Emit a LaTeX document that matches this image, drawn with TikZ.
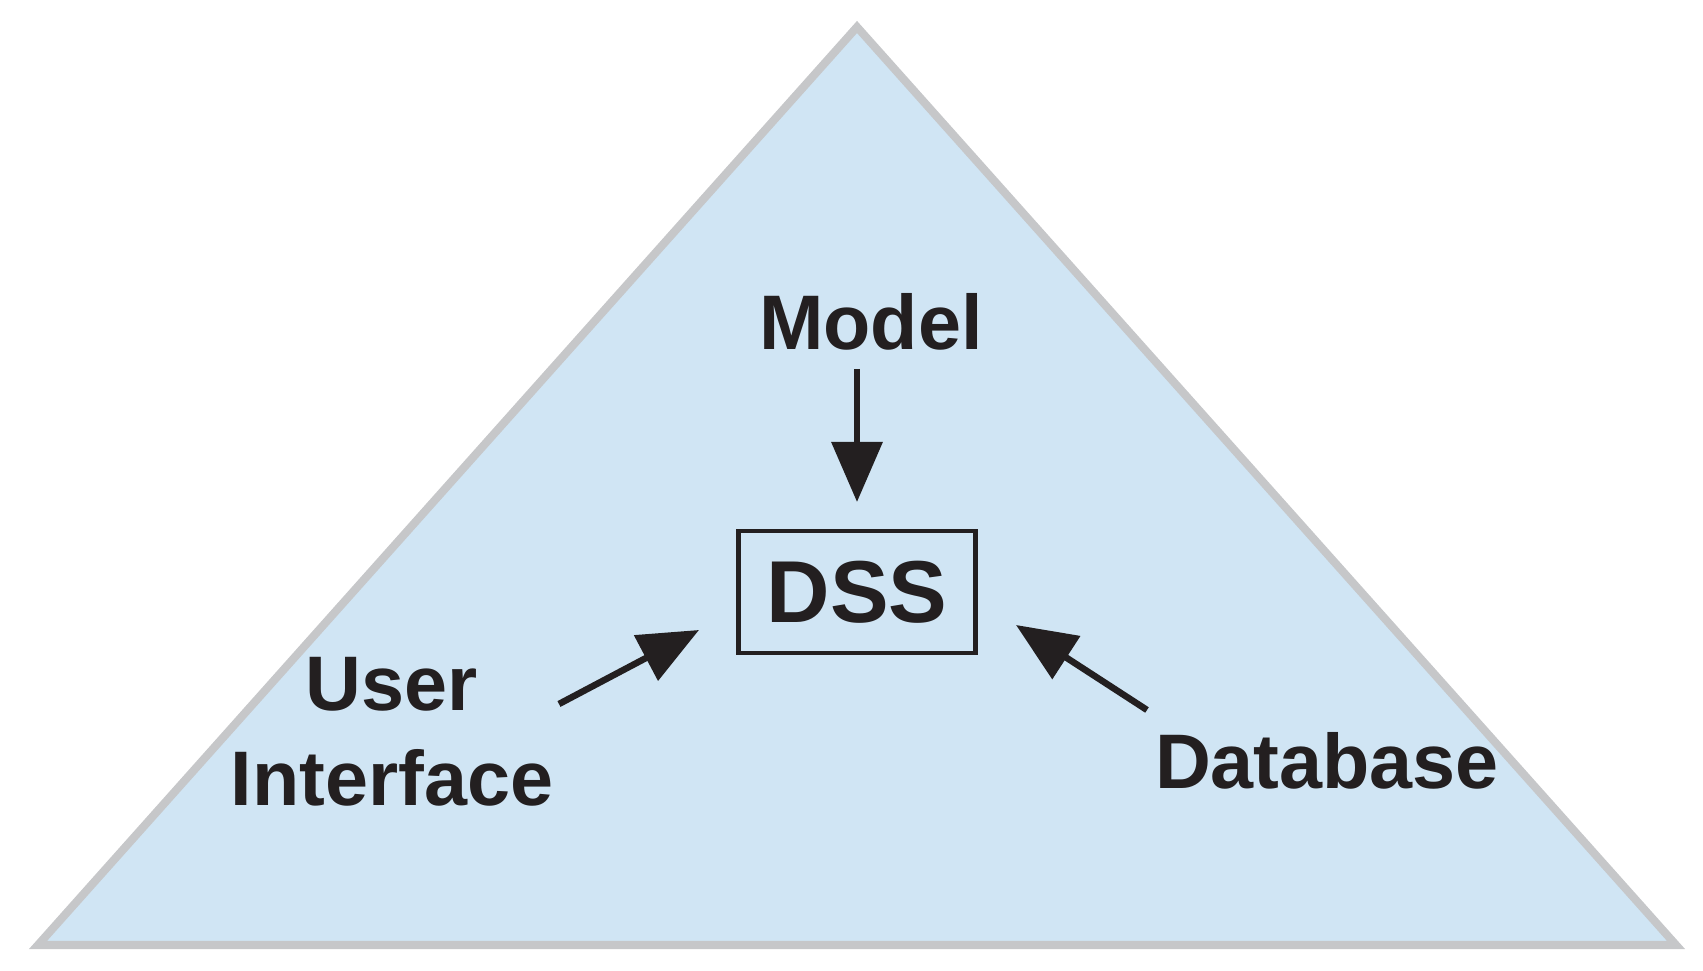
\documentclass[tikz,border=0pt]{standalone}
\usepackage{fontspec}
\setmainfont{Liberation Sans}
\usetikzlibrary{arrows.meta}
\definecolor{tri}{HTML}{D0E5F4}
\definecolor{edge}{HTML}{C6C7C9}
\definecolor{ink}{HTML}{231F20}
\begin{document}
\begin{tikzpicture}[x=0.01cm,y=-0.01cm,
  lbl/.style={font=\fontsize{22}{25}\selectfont\bfseries,text=ink,align=center,inner sep=0pt},
  arr/.style={draw=ink,line width=1.85pt,-{Triangle[length=0.6cm,width=0.5cm]}}]
\useasboundingbox (0,0) rectangle (1703,971);
\draw[fill=tri,draw=edge,line width=2.3pt,line join=miter] (857,27) -- (1676,945) -- (38,945) -- cycle;
\node[lbl] (model) at (871,322) {Model};
\node[draw=ink,line width=1.25pt,minimum width=2.37cm,minimum height=1.22cm,inner sep=0pt,
  font=\fontsize{25}{28}\selectfont\bfseries,text=ink] (dss) at (857,592) {DSS};
\node[lbl] (ui) at (392,732) {User\\[2pt]Interface};
\node[lbl] (db) at (1327,761) {Database};
\coordinate (m1) at (857,369);
\coordinate (m2) at (857,502);
\coordinate (u1) at (559,704);
\coordinate (u2) at (699,630);
\coordinate (d1) at (1147,710);
\coordinate (d2) at (1016,625);
\draw[arr] (m1) -- (m2);
\draw[arr] (u1) -- (u2);
\draw[arr] (d1) -- (d2);
\end{tikzpicture}
\end{document}
